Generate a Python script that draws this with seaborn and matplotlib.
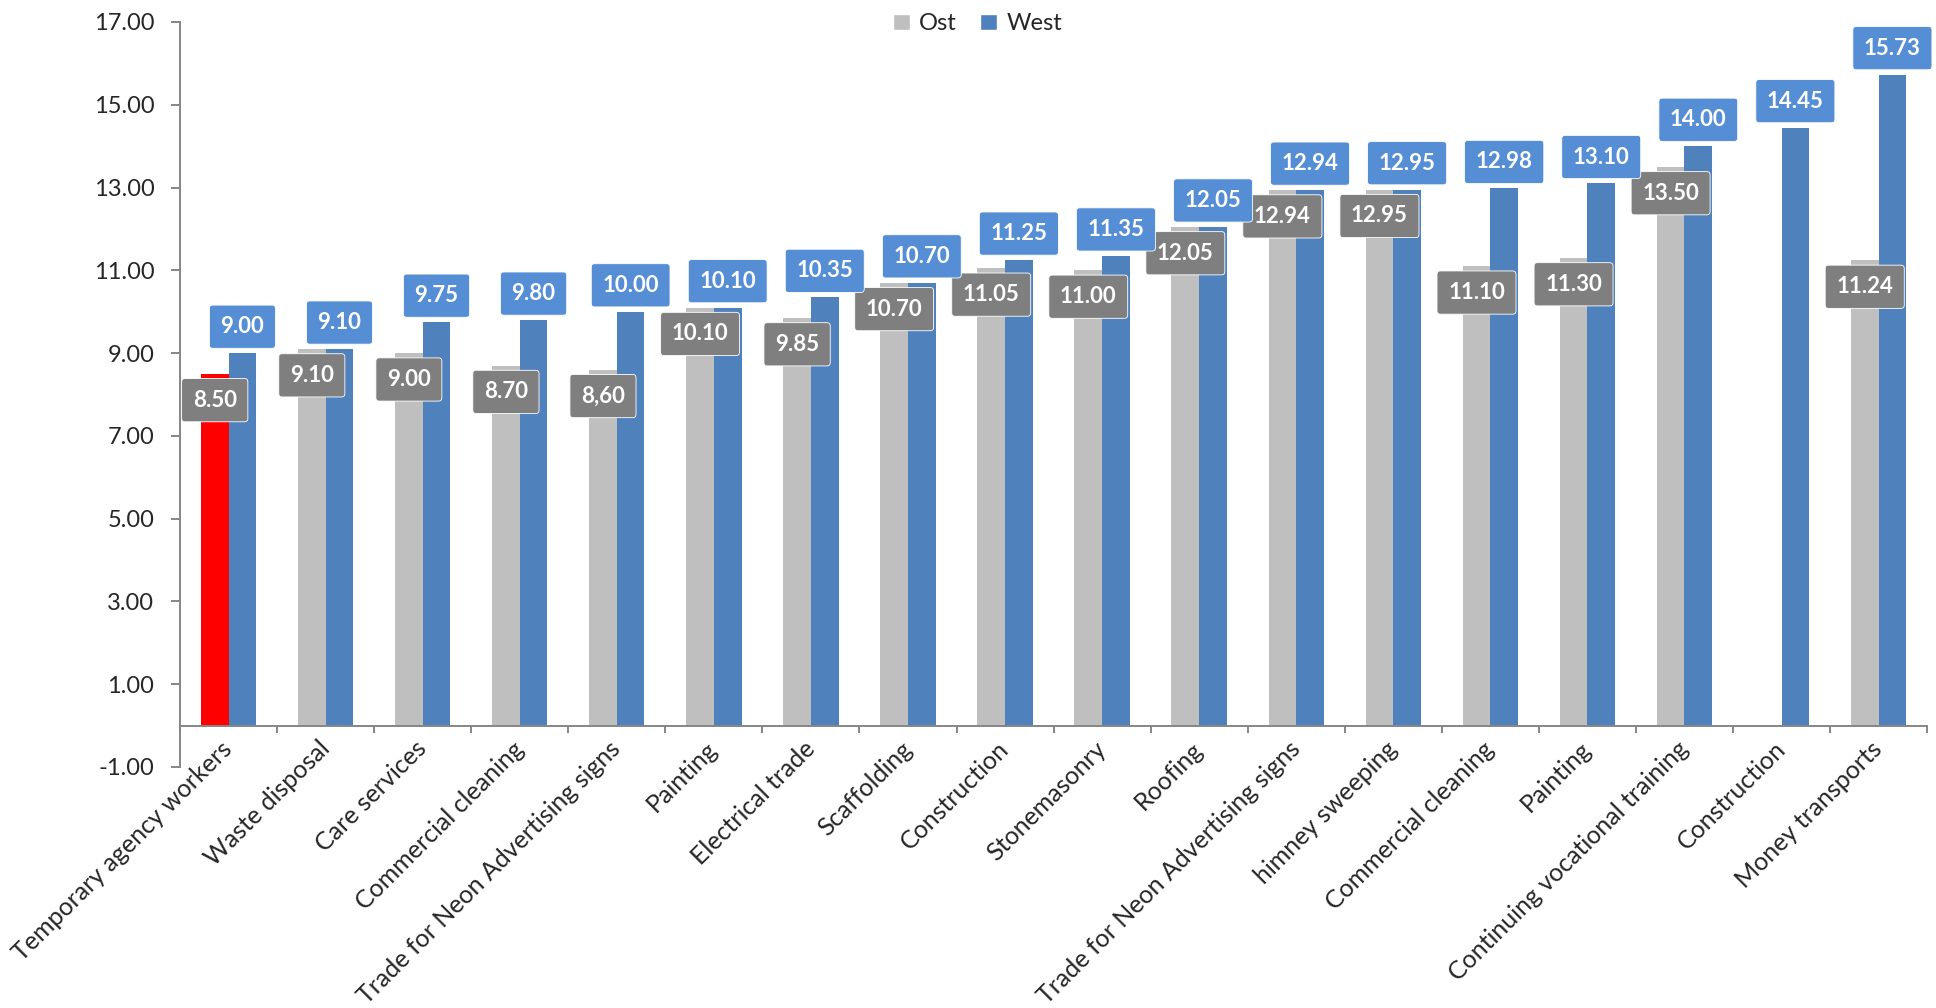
import numpy as np
import pandas as pd
import matplotlib
matplotlib.use("Agg")
import matplotlib.pyplot as plt
from matplotlib.patches import Patch
import seaborn as sns

# Minimum wages per sector, East (Ost) and West
categories = [
    "Temporary agency workers", "Waste disposal", "Care services",
    "Commercial cleaning", "Trade for Neon Advertising signs", "Painting",
    "Electrical trade", "Scaffolding", "Construction", "Stonemasonry",
    "Roofing", "Trade for Neon Advertising signs", "himney sweeping",
    "Commercial cleaning", "Painting", "Continuing vocational training",
    "Construction", "Money transports",
]
ost = [8.50, 9.10, 9.00, 8.70, 8.60, 10.10, 9.85, 10.70, 11.05, 11.00,
       12.05, 12.94, 12.95, 11.10, 11.30, 13.50, np.nan, 11.24]
ost_text = ["8.50", "9.10", "9.00", "8.70", "8,60", "10.10", "9.85", "10.70",
            "11.05", "11.00", "12.05", "12.94", "12.95", "11.10", "11.30",
            "13.50", "", "11.24"]
west = [9.00, 9.10, 9.75, 9.80, 10.00, 10.10, 10.35, 10.70, 11.25, 11.35,
        12.05, 12.94, 12.95, 12.98, 13.10, 14.00, 14.45, 15.73]
west_text = [f"{v:.2f}" for v in west]
series = ["Ost", "West"]
yticks = [-1, 1, 3, 5, 7, 9, 11, 13, 15, 17]

OST_COLOR = "#BFBFBF"
WEST_COLOR = "#4F81BD"
HIGHLIGHT = "#FF0000"
OST_BOX = "#7F7F7F"
WEST_BOX = "#558ED5"
AXIS_GREY = "#868686"

sns.set_style("white")
plt.rcParams["font.family"] = ["Lato", "DejaVu Sans"]

n = len(categories)
df = pd.DataFrame({
    "slot": list(range(n)) * 2,
    "series": ["Ost"] * n + ["West"] * n,
    "value": ost + west,
})

fig = plt.figure(figsize=(19.36, 10.08), dpi=100)
ax = fig.add_axes([0.093, 0.2391, 0.9024, 0.7391])

sns.barplot(data=df, x="slot", y="value", hue="series", hue_order=series,
            order=list(range(n)), palette=[OST_COLOR, WEST_COLOR],
            width=0.57, gap=0, linewidth=0, saturation=1,
            errorbar=None, legend=False, ax=ax)

# value labels: Ost inside the bar top, West above the bar
for name, cont in zip(series, ax.containers):
    for p in cont.patches:
        h = p.get_height()
        if not np.isfinite(h) or h == 0:
            continue
        cx = p.get_x() + p.get_width() / 2
        idx = int(round(cx))
        if name == "Ost":
            text, fc, dy = ost_text[idx], OST_BOX, -19
            if idx == 0:
                p.set_facecolor(HIGHLIGHT)
        else:
            text, fc, dy = west_text[idx], WEST_BOX, 19
        ax.annotate(text, xy=(cx, h), xytext=(0, dy), textcoords="offset points",
                    ha="center", va="center", fontsize=16, fontweight="bold",
                    color="white", zorder=5,
                    bbox=dict(boxstyle="round,pad=0.5,rounding_size=0.15",
                              fc=fc, ec="white", lw=0.6))

# spines first: moving a spine rebuilds the ticks
for side in ("top", "right"):
    ax.spines[side].set_visible(False)
ax.spines["left"].set_color(AXIS_GREY)
ax.spines["left"].set_linewidth(1.4)
ax.spines["bottom"].set_color(AXIS_GREY)
ax.spines["bottom"].set_linewidth(1.4)
ax.spines["bottom"].set_position(("data", 0))
ax.grid(False)

ax.set_xlim(-0.5, n - 0.5)
ax.set_ylim(-1, 17)
ax.set_yticks(yticks)
ax.set_yticklabels([f"{t:.2f}" for t in yticks])
ax.set_xlabel("")
ax.set_ylabel("")

ax.set_xticks(range(n))
ax.set_xticks(np.arange(-0.5, n, 1), minor=True)
ax.tick_params(axis="x", which="major", length=0, pad=14, labelsize=18)
ax.tick_params(axis="x", which="minor", length=5, width=1.4, color=AXIS_GREY,
               direction="out", bottom=True)
ax.tick_params(axis="y", length=6.5, width=1.4, color=AXIS_GREY, pad=12,
               labelsize=17, left=True)
ax.set_xticklabels(categories, rotation=45, ha="right", va="center",
                   rotation_mode="anchor")

handles = [Patch(facecolor=OST_COLOR, label="Ost"),
           Patch(facecolor=WEST_COLOR, label="West")]
fig.legend(handles=handles, loc="upper center", bbox_to_anchor=(0.505, 1.008),
           ncol=2, frameon=False, fontsize=17, handlelength=0.7,
           handleheight=0.7, columnspacing=1.0, handletextpad=0.4)

fig.savefig("out.png", dpi=100)
